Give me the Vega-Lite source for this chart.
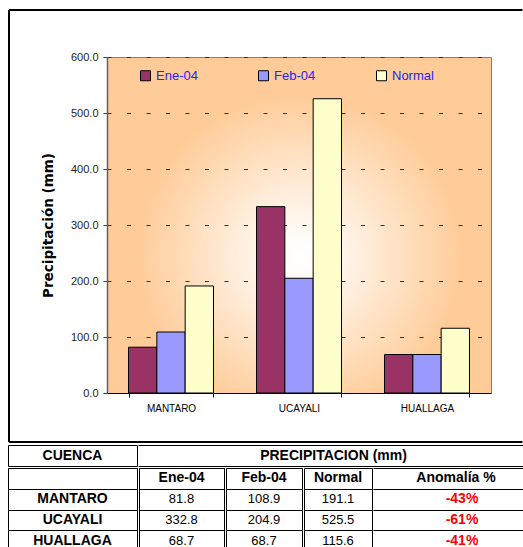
{
  "$schema": "https://vega.github.io/schema/vega-lite/v6.json",
  "padding": {"left": 7, "top": 8, "right": 0, "bottom": 0},
  "autosize": {"type": "pad"},
  "background": "white",
  "spacing": 0,
  "config": {
    "font": "Liberation Sans",
    "view": {"stroke": null},
    "concat": {"spacing": 0},
    "text": {"font": "Liberation Sans"}
  },
  "datasets": {
    "cuencas": [
      {"cuenca": "MANTARO", "Ene-04": 81.8, "Feb-04": 108.9, "Normal": 191.1, "anomalia": "-43%"},
      {"cuenca": "UCAYALI", "Ene-04": 332.8, "Feb-04": 204.9, "Normal": 525.5, "anomalia": "-61%"},
      {"cuenca": "HUALLAGA", "Ene-04": 68.7, "Feb-04": 68.7, "Normal": 115.6, "anomalia": "-41%"}
    ]
  },
  "vconcat": [
    {
      "spacing": -2,
      "hconcat": [
        {
          "width": 1,
          "height": 1,
          "data": {"values": [{"vacio": ""}]},
          "mark": {"type": "text"},
          "encoding": {"text": {"field": "vacio"}}
        },
        {
          "width": 384,
          "height": 336,
          "view": {
            "stroke": "#808080",
            "strokeWidth": 1,
            "fill": {
              "gradient": "radial",
              "x1": 0.5, "y1": 0.58, "r1": 0,
              "x2": 0.5, "y2": 0.58, "r2": 0.42,
              "stops": [
                {"offset": 0, "color": "#FFFFFF"},
                {"offset": 0.2, "color": "#FFF8F1"},
                {"offset": 1, "color": "#FFCC99"}
              ]
            }
          },
          "resolve": {"scale": {"x": "independent", "y": "independent"}, "axis": {"x": "independent", "y": "independent"}},
          "layer": [
            {
              "data": {"values": [{"marco": "superior"}]},
              "mark": {"type": "rule", "stroke": "black", "strokeWidth": 2, "clip": false},
              "encoding": {
                "x": {"datum": -0.255208333, "type": "quantitative", "scale": {"domain": [0, 1], "nice": false, "zero": false}, "axis": null},
                "x2": {"datum": 1.082},
                "y": {"datum": 1.1399, "type": "quantitative", "scale": {"domain": [0, 1], "nice": false, "zero": false}, "axis": null}
              }
            },
            {
              "data": {"values": [{"marco": "izquierdo"}]},
              "mark": {"type": "rule", "stroke": "black", "strokeWidth": 2, "clip": false},
              "encoding": {
                "x": {"datum": -0.255208333, "type": "quantitative", "scale": {"domain": [0, 1], "nice": false, "zero": false}, "axis": null},
                "y": {"datum": 1.1399, "type": "quantitative", "scale": {"domain": [0, 1], "nice": false, "zero": false}, "axis": null},
                "y2": {"datum": -0.1458}
              }
            },
            {
              "data": {"values": [{"marco": "inferior"}]},
              "mark": {"type": "rule", "stroke": "black", "strokeWidth": 2, "clip": false},
              "encoding": {
                "x": {"datum": -0.255208333, "type": "quantitative", "scale": {"domain": [0, 1], "nice": false, "zero": false}, "axis": null},
                "x2": {"datum": 1.082},
                "y": {"datum": -0.1458, "type": "quantitative", "scale": {"domain": [0, 1], "nice": false, "zero": false}, "axis": null}
              }
            },
            {
              "data": {"name": "cuencas"},
              "transform": [{"fold": ["Ene-04", "Feb-04", "Normal"], "as": ["serie", "valor"]}],
              "mark": {"type": "bar", "stroke": "black", "strokeWidth": 1},
              "encoding": {
                "x": {
                  "field": "cuenca", "type": "nominal",
                  "sort": ["MANTARO", "UCAYALI", "HUALLAGA"],
                  "scale": {"paddingInner": 0.336, "paddingOuter": 0.168},
                  "axis": {
                    "title": null, "labelAngle": 0, "labelFontSize": 10, "labelColor": "black",
                    "labelPadding": 6, "tickSize": 4, "tickBand": "extent", "tickColor": "black",
                    "domainColor": "black", "domainWidth": 1, "grid": false
                  }
                },
                "xOffset": {"field": "serie", "type": "nominal", "sort": ["Ene-04", "Feb-04", "Normal"], "scale": {"paddingInner": 0, "paddingOuter": 0}},
                "y": {
                  "field": "valor", "type": "quantitative",
                  "scale": {"domain": [0, 600], "nice": false},
                  "axis": {
                    "title": "Precipitación (mm)", "titleFont": "DejaVu Sans", "titleFontSize": 13.5, "titleFontWeight": "bold", "titleColor": "black", "titlePadding": 15,
                    "values": [0, 100, 200, 300, 400, 500, 600], "format": ".1f",
                    "labelFontSize": 11, "labelColor": "#222222", "labelPadding": 5,
                    "tickSize": 4, "tickColor": "#404040", "domainColor": "#606060", "domainWidth": 1.5,
                    "grid": true, "gridColor": "#303030", "gridDash": [4, 15.5], "gridWidth": 1, "gridOpacity": 1
                  }
                },
                "color": {
                  "field": "serie", "type": "nominal",
                  "scale": {"domain": ["Ene-04", "Feb-04", "Normal"], "range": ["#993366", "#9999FF", "#FFFFCC"]},
                  "legend": {
                    "orient": "none", "legendX": 131, "legendY": 12, "direction": "horizontal", "columns": 3,
                    "columnPadding": 58, "title": null, "symbolType": "square", "symbolSize": 100,
                    "symbolStrokeColor": "black", "symbolStrokeWidth": 1, "symbolOpacity": 1,
                    "labelFontSize": 13, "labelColor": "#2424F5", "labelOffset": 4, "gridAlign": "all", "padding": 0
                  }
                }
              }
            }
          ]
        }
      ]
    },
    {
      "spacing": 0,
      "hconcat": [
        {
          "width": 129, "height": 21,
          "view": {"stroke": "black", "strokeWidth": 1},
          "data": {"values": [{"encabezado": "CUENCA"}]},
          "mark": {"type": "text", "fontSize": 14, "fontWeight": "bold", "color": "black"},
          "encoding": {
            "x": {"field": "encabezado", "type": "nominal", "scale": {"paddingInner": 0, "paddingOuter": 0}, "axis": null},
            "y": {"field": "encabezado", "type": "nominal", "scale": {"paddingInner": 0, "paddingOuter": 0}, "axis": null},
            "text": {"field": "encabezado"}
          }
        },
        {
          "width": 385, "height": 21,
          "data": {"values": [{"encabezado": "PRECIPITACION (mm)"}]},
          "mark": {"type": "text", "fontSize": 14, "fontWeight": "bold", "color": "black", "dx": 3},
          "encoding": {
            "x": {"field": "encabezado", "type": "nominal", "scale": {"paddingInner": 0, "paddingOuter": 0}, "axis": null},
            "y": {"field": "encabezado", "type": "nominal", "scale": {"paddingInner": 0, "paddingOuter": 0},
              "axis": {"title": null, "labels": false, "ticks": false, "domain": false, "grid": true, "gridColor": "black", "gridOpacity": 1, "gridWidth": 1, "tickBand": "extent"}},
            "text": {"field": "encabezado"}
          }
        }
      ]
    },
    {
      "spacing": 0,
      "hconcat": [
        {
          "width": 129, "height": 83,
          "view": {"stroke": "black", "strokeWidth": 1},
          "data": {"name": "cuencas"},
          "mark": {"type": "text", "fontSize": 14, "fontWeight": "bold", "color": "black"},
          "encoding": {
            "y": {
              "field": "cuenca", "type": "nominal",
              "scale": {"domain": ["Encabezado", "MANTARO", "UCAYALI", "HUALLAGA"], "paddingInner": 0, "paddingOuter": 0},
              "axis": {"title": null, "labels": false, "ticks": false, "domain": false, "grid": true, "gridColor": "black", "gridOpacity": 1, "gridWidth": 1, "tickBand": "extent"}
            },
            "text": {"field": "cuenca"}
          }
        },
        {
          "width": 85, "height": 83,
          "view": {"stroke": "black", "strokeWidth": 1},
          "layer": [
            {
              "data": {"values": [{"cuenca": "Encabezado", "texto": "Ene-04"}]},
              "mark": {"type": "text", "fontSize": 14, "fontWeight": "bold", "color": "black"},
              "encoding": {
                "y": {"field": "cuenca", "type": "nominal", "scale": {"domain": ["Encabezado", "MANTARO", "UCAYALI", "HUALLAGA"], "paddingInner": 0, "paddingOuter": 0},
                  "axis": {"title": null, "labels": false, "ticks": false, "domain": false, "grid": true, "gridColor": "black", "gridOpacity": 1, "gridWidth": 1, "tickBand": "extent"}},
                "text": {"field": "texto"}
              }
            },
            {
              "data": {"name": "cuencas"},
              "mark": {"type": "text", "fontSize": 13, "color": "black"},
              "encoding": {
                "y": {"field": "cuenca", "type": "nominal", "scale": {"domain": ["Encabezado", "MANTARO", "UCAYALI", "HUALLAGA"], "paddingInner": 0, "paddingOuter": 0}},
                "text": {"field": "Ene-04", "type": "quantitative", "format": ".1f"}
              }
            }
          ]
        },
        {
          "width": 76, "height": 83,
          "view": {"stroke": "black", "strokeWidth": 1},
          "layer": [
            {
              "data": {"values": [{"cuenca": "Encabezado", "texto": "Feb-04"}]},
              "mark": {"type": "text", "fontSize": 14, "fontWeight": "bold", "color": "black"},
              "encoding": {
                "y": {"field": "cuenca", "type": "nominal", "scale": {"domain": ["Encabezado", "MANTARO", "UCAYALI", "HUALLAGA"], "paddingInner": 0, "paddingOuter": 0},
                  "axis": {"title": null, "labels": false, "ticks": false, "domain": false, "grid": true, "gridColor": "black", "gridOpacity": 1, "gridWidth": 1, "tickBand": "extent"}},
                "text": {"field": "texto"}
              }
            },
            {
              "data": {"name": "cuencas"},
              "mark": {"type": "text", "fontSize": 13, "color": "black"},
              "encoding": {
                "y": {"field": "cuenca", "type": "nominal", "scale": {"domain": ["Encabezado", "MANTARO", "UCAYALI", "HUALLAGA"], "paddingInner": 0, "paddingOuter": 0}},
                "text": {"field": "Feb-04", "type": "quantitative", "format": ".1f"}
              }
            }
          ]
        },
        {
          "width": 68, "height": 83,
          "view": {"stroke": "black", "strokeWidth": 1},
          "layer": [
            {
              "data": {"values": [{"cuenca": "Encabezado", "texto": "Normal"}]},
              "mark": {"type": "text", "fontSize": 14, "fontWeight": "bold", "color": "black"},
              "encoding": {
                "y": {"field": "cuenca", "type": "nominal", "scale": {"domain": ["Encabezado", "MANTARO", "UCAYALI", "HUALLAGA"], "paddingInner": 0, "paddingOuter": 0},
                  "axis": {"title": null, "labels": false, "ticks": false, "domain": false, "grid": true, "gridColor": "black", "gridOpacity": 1, "gridWidth": 1, "tickBand": "extent"}},
                "text": {"field": "texto"}
              }
            },
            {
              "data": {"name": "cuencas"},
              "mark": {"type": "text", "fontSize": 13, "color": "black"},
              "encoding": {
                "y": {"field": "cuenca", "type": "nominal", "scale": {"domain": ["Encabezado", "MANTARO", "UCAYALI", "HUALLAGA"], "paddingInner": 0, "paddingOuter": 0}},
                "text": {"field": "Normal", "type": "quantitative", "format": ".1f"}
              }
            }
          ]
        },
        {
          "width": 156, "height": 83,
          "layer": [
            {
              "data": {"values": [{"cuenca": "Encabezado", "texto": "Anomalía %"}]},
              "mark": {"type": "text", "fontSize": 14, "fontWeight": "bold", "color": "black", "dx": 5},
              "encoding": {
                "y": {"field": "cuenca", "type": "nominal", "scale": {"domain": ["Encabezado", "MANTARO", "UCAYALI", "HUALLAGA"], "paddingInner": 0, "paddingOuter": 0},
                  "axis": {"title": null, "labels": false, "ticks": false, "domain": false, "grid": true, "gridColor": "black", "gridOpacity": 1, "gridWidth": 1, "tickBand": "extent"}},
                "text": {"field": "texto"}
              }
            },
            {
              "data": {"name": "cuencas"},
              "mark": {"type": "text", "fontSize": 14, "fontWeight": "bold", "color": "#FF0000", "dx": 11},
              "encoding": {
                "y": {"field": "cuenca", "type": "nominal", "scale": {"domain": ["Encabezado", "MANTARO", "UCAYALI", "HUALLAGA"], "paddingInner": 0, "paddingOuter": 0}},
                "text": {"field": "anomalia"}
              }
            }
          ]
        }
      ]
    }
  ]
}
